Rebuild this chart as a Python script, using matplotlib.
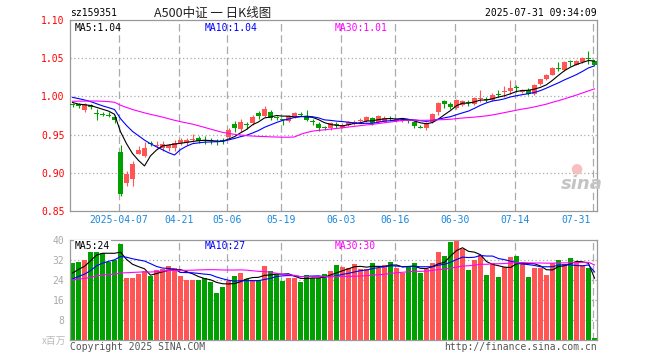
import numpy as np
import pandas as pd
import matplotlib
matplotlib.use('Agg')
import matplotlib.pyplot as plt

# sz159351 daily candles, 2025-03-25 .. 2025-07-31 (prices in yuan)
opens = [0.9895, 0.990, 0.982, 0.989, 0.978, 0.977, 0.976, 0.973, 0.927, 0.886,
         0.892, 0.925, 0.922, 0.939, 0.935, 0.933, 0.932, 0.932, 0.9385, 0.939,
         0.943, 0.9455, 0.943, 0.942, 0.941, 0.943, 0.947, 0.964, 0.957, 0.963,
         0.965, 0.978, 0.975, 0.980, 0.973, 0.970, 0.968, 0.9735, 0.977, 0.975,
         0.967, 0.964, 0.960, 0.958, 0.963, 0.959, 0.962, 0.964, 0.968, 0.968,
         0.972, 0.9665, 0.967, 0.972, 0.968, 0.968, 0.969, 0.9665, 0.960, 0.959,
         0.9665, 0.979, 0.994, 0.9904, 0.985, 0.989, 0.992, 0.9904, 0.997, 0.9965,
         0.9948, 1.003, 1.006, 1.0065, 1.012, 1.006, 1.008, 1.0035, 1.0157, 1.0222,
         1.0284, 1.037, 1.034, 1.046, 1.0415, 1.045, 1.050, 1.046]
highs = [0.992, 0.992, 0.991, 0.990, 0.983, 0.979, 0.979, 0.976, 0.936, 0.903,
         0.916, 0.935, 0.940, 0.942, 0.941, 0.941, 0.938, 0.943, 0.945, 0.946,
         0.951, 0.948, 0.948, 0.946, 0.944, 0.946, 0.958, 0.968, 0.970, 0.966,
         0.976, 0.981, 0.988, 0.982, 0.975, 0.971, 0.976, 0.980, 0.979, 0.982,
         0.970, 0.966, 0.961, 0.967, 0.966, 0.965, 0.968, 0.969, 0.972, 0.975,
         0.973, 0.976, 0.975, 0.974, 0.972, 0.971, 0.970, 0.968, 0.963, 0.966,
         0.978, 0.993, 0.995, 0.993, 0.997, 0.995, 0.995, 0.999, 1.009, 0.999,
         1.005, 1.009, 1.0136, 1.022, 1.015, 1.010, 1.011, 1.016, 1.023, 1.029,
         1.038, 1.045, 1.046, 1.047, 1.047, 1.051, 1.059, 1.047]
lows = [0.986, 0.985, 0.980, 0.983, 0.969, 0.974, 0.973, 0.965, 0.869, 0.883,
        0.883, 0.924, 0.921, 0.935, 0.932, 0.929, 0.929, 0.928, 0.937, 0.937,
        0.940, 0.939, 0.938, 0.938, 0.936, 0.938, 0.946, 0.954, 0.954, 0.957,
        0.963, 0.970, 0.973, 0.969, 0.969, 0.963, 0.966, 0.972, 0.975, 0.968,
        0.962, 0.955, 0.956, 0.956, 0.958, 0.958, 0.961, 0.963, 0.966, 0.967,
        0.963, 0.965, 0.966, 0.968, 0.966, 0.966, 0.965, 0.958, 0.958, 0.9555,
        0.965, 0.976, 0.985, 0.984, 0.984, 0.988, 0.988, 0.989, 0.9927, 0.993,
        0.994, 0.999, 0.999, 1.0035, 1.006, 1.004, 1.002, 1.002, 1.015, 1.021,
        1.028, 1.0327, 1.033, 1.040, 1.041, 1.044, 1.043, 1.041]
closes = [0.9885, 0.987, 0.990, 0.986, 0.977, 0.976, 0.975, 0.969, 0.872, 0.899,
          0.911, 0.930, 0.933, 0.938, 0.937, 0.938, 0.936, 0.939, 0.943, 0.943,
          0.944, 0.941, 0.942, 0.941, 0.940, 0.942, 0.9555, 0.958, 0.966, 0.962,
          0.973, 0.974, 0.984, 0.972, 0.972, 0.969, 0.974, 0.978, 0.976, 0.969,
          0.966, 0.959, 0.958, 0.965, 0.962, 0.963, 0.9665, 0.967, 0.969, 0.973,
          0.965, 0.974, 0.972, 0.971, 0.970, 0.969, 0.968, 0.961, 0.959, 0.964,
          0.977, 0.991, 0.9895, 0.986, 0.9957, 0.9935, 0.991, 0.998, 0.998, 0.9957,
          1.002, 1.002, 1.0065, 1.011, 1.011, 1.008, 1.0035, 1.0144, 1.0222, 1.0284,
          1.037, 1.036, 1.045, 1.045, 1.046, 1.050, 1.049, 1.0415]
# volume, millions of shares
volumes = [30.9, 31.3, 32.1, 36.1, 39.3, 34.7, 31.3, 32.0, 38.4, 24.9,
           24.9, 26.5, 27.7, 25.7, 28.1, 28.3, 29.7, 28.9, 25.7, 24.1,
           24.1, 24.1, 24.9, 23.3, 18.9, 21.3, 23.7, 25.7, 26.9, 24.5,
           24.1, 24.1, 29.7, 27.7, 26.5, 23.7, 24.9, 24.9, 23.3, 26.1,
           24.9, 24.9, 26.5, 27.7, 30.1, 29.3, 28.9, 30.5, 28.5, 28.5,
           30.9, 28.9, 30.1, 31.3, 28.9, 26.9, 29.7, 30.9, 26.9, 28.5,
           30.9, 35.3, 33.7, 39.3, 39.7, 36.5, 28.1, 32.1, 34.1, 26.1,
           30.9, 25.3, 29.3, 33.3, 33.7, 31.3, 25.3, 28.9, 28.9, 26.1,
           30.9, 32.1, 30.5, 32.9, 30.9, 30.1, 28.9, 0.9]

# earlier sessions (not drawn), only used so the moving averages start like the original
pre_close = [0.985, 0.988, 0.982, 0.978, 0.984, 0.990, 0.993, 0.989, 0.986, 0.992,
             0.996, 0.999, 0.995, 0.991, 0.994, 0.998, 1.001, 0.997, 0.993, 0.992,
             1.003, 1.008, 1.007, 1.005, 1.004, 0.998, 0.994, 0.991, 0.989]
pre_volume = [22, 25, 24, 21, 23, 26, 28, 24, 22, 21, 23, 25, 27, 24, 22,
              23, 26, 25, 24, 23, 21, 23, 22, 20, 24, 24, 26, 25, 28]

date_labels = ['2025-04-07', '04-21', '05-06', '05-19', '06-03', '06-16', '06-30', '07-14', '07-31']
date_index = [8, 18, 26, 35, 45, 54, 64, 74, 87]

RED = '#FF5555'
GREEN = '#00A000'
GRID = '#AAAAAA'
MONO = 'DejaVu Sans Mono'
CJK = ['Noto Sans CJK SC', 'DejaVu Sans']

n = len(closes)
x = np.arange(n)
o = np.array(opens); h = np.array(highs); l = np.array(lows); c = np.array(closes)
up = c >= o
colors = np.where(up, RED, GREEN)

def moving(pre, vals, w):
    s = pd.Series(list(pre) + list(vals)).rolling(w).mean()
    return s.iloc[len(pre):].values

W, H = 660, 360
fig = plt.figure(figsize=(6.6, 3.6), dpi=100)
ax = fig.add_axes([70 / W, 1 - 211 / H, 527 / W, 191 / H])
axv = fig.add_axes([70 / W, 1 - 340 / H, 527 / W, 100 / H])

for a in (ax, axv):
    a.set_xlim(-0.4167, n - 0.5833)
    for s in a.spines.values():
        s.set_color('#999999')
        s.set_linewidth(0.9)
    a.tick_params(length=0)
    for d in date_index:
        a.axvline(d - 0.3, color=GRID, lw=0.9, dashes=(6, 3), zorder=0)

# price panel
ax.set_ylim(0.85, 1.10)
ax.set_yticks([0.85, 0.90, 0.95, 1.00, 1.05, 1.10])
ax.set_yticklabels(['0.85', '0.90', '0.95', '1.00', '1.05', '1.10'],
                   color='#FF0000', fontsize=7, family=MONO)
ax.tick_params(axis='y', pad=4)
for yv in [0.90, 0.95, 1.00, 1.05]:
    ax.axhline(yv, color=GRID, lw=0.9, dashes=(1, 2), zorder=0)
ax.set_xticks([])

ax.vlines(x, l, h, colors=colors, lw=0.8, zorder=2)
body = np.maximum(np.abs(c - o), 0.0013)
ax.bar(x, body, bottom=np.minimum(o, c), width=0.83, color=colors, zorder=3)

ax.plot(x, moving(pre_close, closes, 5), color='black', lw=0.8, zorder=4)
ax.plot(x, moving(pre_close, closes, 10), color='#0000FF', lw=0.8, zorder=4)
ax.plot(x, moving(pre_close, closes, 30), color='#FF00FF', lw=0.8, zorder=4)

for lab, d in zip(date_labels, date_index):
    if d == date_index[-1]:
        ax.text(d - 0.6, -0.045, lab, transform=ax.get_xaxis_transform(), ha='right', va='center',
                color='#1A88DD', fontsize=7, family=MONO)
    else:
        ax.text(d - 0.3, -0.045, lab, transform=ax.get_xaxis_transform(), ha='center', va='center',
                color='#1A88DD', fontsize=7, family=MONO)

# sina watermark, bottom right of the price panel
fig.text(582 / W, 1 - 184 / H, 'sina', fontsize=13, fontweight='bold',
         style='italic', color='#C4C4C4', ha='center', va='center', zorder=1)
fig.text(576 / W, 1 - 168 / H, '●', fontsize=10, color='#F6C0C0',
         ha='center', va='center', zorder=1)

# volume panel
axv.set_ylim(0, 40)
axv.set_yticks([8, 16, 24, 32, 40])
axv.set_yticklabels(['8', '16', '24', '32', '40'], color='#AAAAAA', fontsize=7, family=MONO)
axv.tick_params(axis='y', pad=4)
for yv in [8, 16, 24, 32]:
    axv.axhline(yv, color=GRID, lw=0.9, dashes=(1, 2), zorder=0)
axv.set_xticks([])
axv.bar(x, volumes, width=0.83, color=colors, zorder=2)
axv.plot(x, moving(pre_volume, volumes, 5), color='black', lw=0.8, zorder=4)
axv.plot(x, moving(pre_volume, volumes, 10), color='#0000FF', lw=0.8, zorder=4)
axv.plot(x, moving(pre_volume, volumes, 30), color='#FF00FF', lw=0.8, zorder=4)

def ftext(px, py, s, **kw):
    fig.text(px / W, 1 - py / H, s, **kw)

ftext(70, 13, 'sz159351', fontsize=7, family=MONO, va='center', ha='left')
ftext(213, 13, 'A500中证 一 日K线图', fontsize=9, family=CJK, va='center', ha='center', color='#222222')
ftext(597, 13, '2025-07-31 09:34:09', fontsize=7, family=MONO, va='center', ha='right')

ftext(75, 28, 'MA5:1.04', fontsize=7, family=MONO, va='center', color='black')
ftext(205, 28, 'MA10:1.04', fontsize=7, family=MONO, va='center', color='#0000FF')
ftext(335, 28, 'MA30:1.01', fontsize=7, family=MONO, va='center', color='#FF00FF')

ftext(75, 246, 'MA5:24', fontsize=7, family=MONO, va='center', color='black', zorder=10,
      bbox=dict(facecolor='white', edgecolor='none', pad=0.5))
ftext(205, 246, 'MA10:27', fontsize=7, family=MONO, va='center', color='#0000FF', zorder=10)
ftext(335, 246, 'MA30:30', fontsize=7, family=MONO, va='center', color='#FF00FF', zorder=10)

ftext(66, 341, 'x百万', fontsize=7, family=CJK, va='center', ha='right', color='#BBBBBB')
ftext(70, 347, 'Copyright 2025 SINA.COM', fontsize=7, family=MONO, va='center', ha='left', color='#555555')
ftext(597, 347, 'http://finance.sina.com.cn', fontsize=7, family=MONO, va='center', ha='right', color='#555555')

fig.savefig('out.png', dpi=100)
